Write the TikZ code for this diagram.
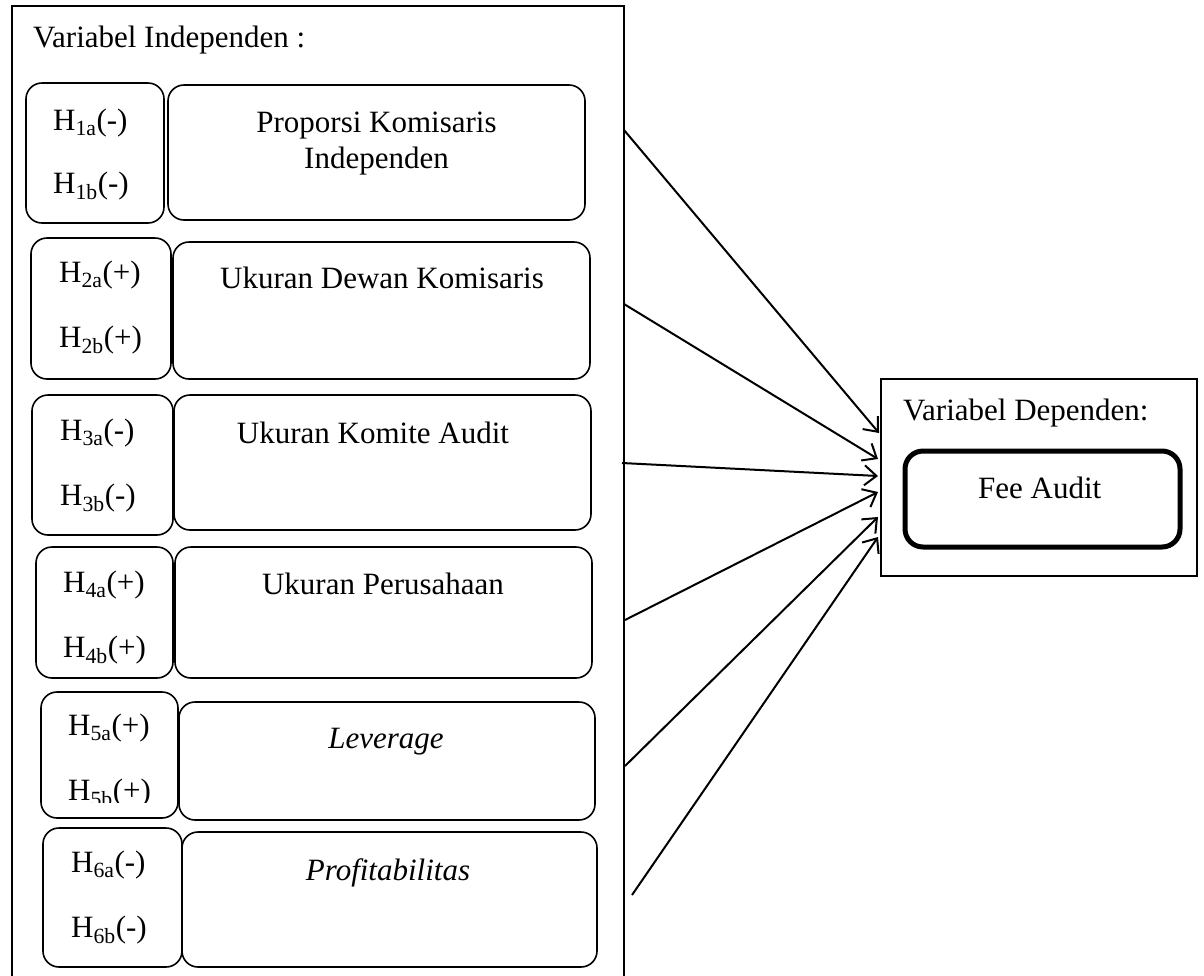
\documentclass[tikz,border=0pt]{standalone}
\usepackage{fontspec}
\setmainfont{Liberation Serif}
\usetikzlibrary{arrows.meta,fit}
\tikzset{
  hbox/.style={draw, line width=1.6pt, rounded corners=16pt, inner sep=0pt},
  vbox/.style={draw, line width=1.6pt, rounded corners=16pt, inner sep=0pt},
  plainbox/.style={draw, line width=1.8pt, inner sep=0pt},
  feebox/.style={draw, line width=5pt, rounded corners=18pt, inner sep=0pt},
  txt/.style={inner sep=0pt, font=\fontsize{31}{36}\selectfont},
  conn/.style={line width=2pt, -{Straight Barb[length=12pt,width=20pt]}},
}
\begin{document}
\begin{tikzpicture}[x=1pt,y=-1pt]
\useasboundingbox (0,0) rectangle (1204,975);
% outer container (bottom lies below the page)
\node[plainbox, line width=2pt, fit={(12,6) (624,995)}] (outer) {};
\node[txt, anchor=base west] (indep) at (33,47) {Variabel Independen :};

% row 1
\node[hbox, fit={(26,83) (164,223)}] (h1) {};
\node[vbox, fit={(168,85) (585,220)}] (v1) {};
\node[txt, anchor=base west] (h1a) at (53,130) {H\textsubscript{1a}(-)};
\node[txt, anchor=base west] (h1b) at (53,193) {H\textsubscript{1b}(-)};
\node[txt, anchor=base] (v1t) at (376.5,132) {Proporsi Komisaris};
\node[txt, anchor=base] (v1u) at (376.5,168) {Independen};

% row 2
\node[hbox, fit={(31,238) (171,379)}] (h2) {};
\node[vbox, fit={(173,242) (590,379)}] (v2) {};
\node[txt, anchor=base west] (h2a) at (59,282) {H\textsubscript{2a}(+)};
\node[txt, anchor=base west] (h2b) at (59,347) {H\textsubscript{2b}(+)};
\node[txt, anchor=base] (v2t) at (382,288) {Ukuran Dewan Komisaris};

% row 3
\node[hbox, fit={(32,395) (173,535)}] (h3) {};
\node[vbox, fit={(174,395) (591,530)}] (v3) {};
\node[txt, anchor=base west] (h3a) at (60,440) {H\textsubscript{3a}(-)};
\node[txt, anchor=base west] (h3b) at (60,505) {H\textsubscript{3b}(-)};
\node[txt, anchor=base] (v3t) at (373,443) {Ukuran Komite Audit};

% row 4
\node[hbox, fit={(36,547) (173,678)}] (h4) {};
\node[vbox, fit={(175,547) (592,678)}] (v4) {};
\node[txt, anchor=base west] (h4a) at (63,592) {H\textsubscript{4a}(+)};
\node[txt, anchor=base west] (h4b) at (63,657) {H\textsubscript{4b}(+)};
\node[txt, anchor=base] (v4t) at (383,594) {Ukuran Perusahaan};

% row 5
\node[hbox, fit={(41,692) (178,818)}] (h5) {};
\node[vbox, fit={(179,702) (595,820)}] (v5) {};
\node[txt, anchor=base west] (h5a) at (68,735) {H\textsubscript{5a}(+)};
\begin{scope}
  \clip (41,692) rectangle (178,802);
  \node[txt, anchor=base west] (h5b) at (68,800) {H\textsubscript{5b}(+)};
\end{scope}
\node[txt, anchor=base] (v5t) at (386,748) {\itshape Leverage};

% row 6
\node[hbox, fit={(43,828) (182,967)}] (h6) {};
\node[vbox, fit={(182,832) (597,967)}] (v6) {};
\node[txt, anchor=base west] (h6a) at (71,872) {H\textsubscript{6a}(-)};
\node[txt, anchor=base west] (h6b) at (71,937) {H\textsubscript{6b}(-)};
\node[txt, anchor=base] (v6t) at (388,880) {\itshape Profitabilitas};

% dependent variable
\node[plainbox, line width=1.6pt, fit={(881,379) (1197,576)}] (dep) {};
\node[txt, anchor=base west] (deplab) at (903,420) {Variabel Dependen:};
\node[feebox, fit={(905,451) (1180,547)}] (fee) {};
\node[txt, anchor=base west] (feet) at (978,498) {Fee Audit};

% connector ends
\coordinate (s1) at (624,130);
\coordinate (s2) at (624,304);
\coordinate (s3) at (622,463);
\coordinate (s4) at (625,620);
\coordinate (s5) at (625,766);
\coordinate (s6) at (632,895);
\coordinate (t1) at (879,433);
\coordinate (t2) at (878,459);
\coordinate (t3) at (878,476);
\coordinate (t4) at (878,492);
\coordinate (t5) at (878,517);
\coordinate (t6) at (878,537);

\draw[conn] (s1) -- (t1);
\draw[conn] (s2) -- (t2);
\draw[conn] (s3) -- (t3);
\draw[conn] (s4) -- (t4);
\draw[conn] (s5) -- (t5);
\draw[conn] (s6) -- (t6);
\end{tikzpicture}
\end{document}
